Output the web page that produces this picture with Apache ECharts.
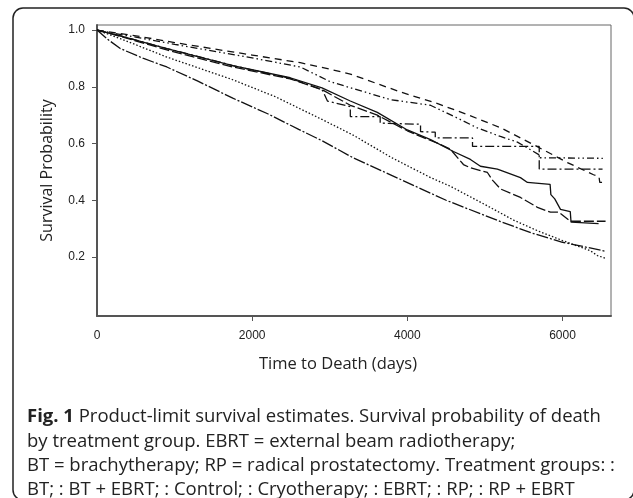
<!DOCTYPE html>
<html>
<head>
<meta charset="utf-8">
<script src="https://cdn.jsdelivr.net/npm/echarts@6.0.0/dist/echarts.min.js"></script>
<style>
  html, body { margin: 0; padding: 0; background: #fff; }
  #chart { width: 633px; height: 498px; }
</style>
</head>
<body>
<div id="chart"></div>
<script>
// tick labels
const xTicks = [0, 2000, 4000, 6000];
const yTicks = [0.2, 0.4, 0.6, 0.8, 1.0];

// product-limit estimates (days, survival)
const btT = [0, 300, 900, 1750, 2490, 2900, 3265, 3613, 4000, 4300, 4594, 4813, 4942, 5161, 5458, 5548, 5840, 5850, 5900, 5974, 6100, 6110, 6465];
const btS = [1.0, 0.98, 0.935, 0.875, 0.832, 0.796, 0.75, 0.71, 0.648, 0.614, 0.572, 0.544, 0.52, 0.51, 0.48, 0.463, 0.456, 0.42, 0.405, 0.368, 0.36, 0.323, 0.318];

const btEbrtT = [0, 300, 900, 1750, 2490, 2900, 3265, 3613, 4000, 4168, 4400, 4555, 4723, 4800, 5032, 5100, 5200, 5458, 5677, 5845, 5950, 6103, 6555];
const btEbrtS = [1.0, 0.978, 0.93, 0.87, 0.828, 0.79, 0.735, 0.70, 0.645, 0.625, 0.60, 0.58, 0.526, 0.516, 0.498, 0.47, 0.44, 0.41, 0.375, 0.358, 0.358, 0.326, 0.326];

const controlT = [0, 150, 300, 600, 900, 1300, 1750, 2200, 2600, 2900, 3300, 3900, 4500, 5200, 5600, 6000, 6300, 6560];
const controlS = [1.0, 0.965, 0.935, 0.90, 0.87, 0.82, 0.76, 0.705, 0.65, 0.61, 0.55, 0.475, 0.40, 0.325, 0.285, 0.252, 0.235, 0.22];

const cryoT = [0, 300, 900, 1750, 2490, 2900, 2920, 2970, 3265, 3265, 3650, 3650, 4170, 4170, 4360, 4360, 4840, 4840, 5700, 5700, 6516];
const cryoS = [1.0, 0.98, 0.935, 0.875, 0.83, 0.79, 0.78, 0.75, 0.73, 0.695, 0.695, 0.672, 0.668, 0.642, 0.64, 0.62, 0.62, 0.59, 0.59, 0.51, 0.51];

const ebrtT = [0, 300, 900, 1750, 2300, 2900, 3300, 3800, 4300, 4550, 5000, 5370, 5700, 6000, 6360, 6450, 6560];
const ebrtS = [1.0, 0.97, 0.905, 0.825, 0.765, 0.685, 0.63, 0.55, 0.48, 0.45, 0.385, 0.33, 0.29, 0.258, 0.222, 0.205, 0.195];

const rpT = [0, 500, 1000, 2000, 2620, 2877, 3265, 3910, 4400, 4774, 5200, 5626, 6064, 6400, 6470, 6480, 6560];
const rpS = [1.0, 0.98, 0.956, 0.912, 0.885, 0.87, 0.845, 0.782, 0.74, 0.702, 0.656, 0.596, 0.533, 0.49, 0.484, 0.463, 0.463];

const rpEbrtT = [0, 1000, 2000, 2620, 3006, 3781, 4297, 4645, 4903, 5200, 5419, 5626, 5700, 5710, 6520];
const rpEbrtS = [1.0, 0.95, 0.902, 0.87, 0.818, 0.755, 0.735, 0.69, 0.655, 0.625, 0.605, 0.572, 0.56, 0.55, 0.548];

const groups = [
  {name: 'BT', t: btT, s: btS, dash: 'solid'},
  {name: 'BT + EBRT', t: btEbrtT, s: btEbrtS, dash: [10, 3]},
  {name: 'Control', t: controlT, s: controlS, dash: [12, 2, 2, 2]},
  {name: 'Cryotherapy', t: cryoT, s: cryoS, dash: [9, 3, 2, 3]},
  {name: 'EBRT', t: ebrtT, s: ebrtS, dash: [1.5, 2]},
  {name: 'RP', t: rpT, s: rpS, dash: [7, 5]},
  {name: 'RP + EBRT', t: rpEbrtT, s: rpEbrtS, dash: [7, 3, 1.5, 3, 1.5, 3]}
];

const chart = echarts.init(document.getElementById('chart'));

const captionFont = '"Open Sans", "Noto Sans", sans-serif';
const tickFont = '"Liberation Sans", Arial, sans-serif';
const captionLines = [
  'by treatment group. EBRT = external beam radiotherapy;',
  'BT = brachytherapy; RP = radical prostatectomy. Treatment groups: :',
  'BT; : BT + EBRT; : Control; : Cryotherapy; : EBRT; : RP; : RP + EBRT'
];

const option = {
  animation: false,
  backgroundColor: '#fff',
  grid: {
    left: 97, top: 25, right: 22, bottom: 182,
    show: true, borderColor: '#666', borderWidth: 1
  },
  xAxis: {
    type: 'value',
    min: 0, max: 6625, interval: 2000,
    splitLine: {show: false},
    axisLine: {onZero: false, lineStyle: {color: '#555', width: 2}},
    axisTick: {show: true, length: 5, lineStyle: {color: '#555'}, customValues: xTicks.slice(1)},
    axisLabel: {
      color: '#222', fontSize: 12, margin: 14,
      fontFamily: tickFont,
      customValues: xTicks,
      formatter: v => String(v)
    }
  },
  yAxis: {
    type: 'value',
    min: -0.008, max: 1.018,
    name: 'Survival Probability',
    nameLocation: 'middle',
    nameGap: 42,
    nameTextStyle: {fontSize: 16, color: '#222', fontFamily: captionFont},
    splitLine: {show: false},
    axisLine: {lineStyle: {color: '#555', width: 2}},
    axisTick: {show: true, length: 5, lineStyle: {color: '#555'}, customValues: yTicks},
    axisLabel: {
      color: '#222', fontSize: 12, margin: 12,
      fontFamily: tickFont,
      customValues: yTicks,
      formatter: v => v.toFixed(1)
    }
  },
  series: groups.map(g => ({
    name: g.name,
    type: 'line',
    symbol: 'none',
    data: g.t.map((t, i) => [t, g.s[i]]),
    lineStyle: {color: '#111', width: 1.3, type: g.dash},
    z: 3
  })),
  graphic: [
    {
      type: 'rect',
      shape: {x: 13, y: 8, width: 621, height: 492, r: 10},
      style: {fill: 'none', stroke: '#222', lineWidth: 1.5},
      silent: true
    },
    {
      type: 'text',
      x: 338, y: 364,
      style: {
        text: 'Time to Death (days)',
        font: '16.5px ' + captionFont,
        fill: '#222', textAlign: 'center', textVerticalAlign: 'middle'
      }
    },
    {
      type: 'text',
      x: 27, y: 417,
      style: {
        text: '{b|Fig. 1} Product-limit survival estimates. Survival probability of death',
        fill: '#222', textVerticalAlign: 'middle',
        fontSize: 18.5, fontFamily: captionFont,
        rich: {
          b: {fontWeight: 'bold', fontSize: 18.5, fontFamily: captionFont, fill: '#222'}
        }
      }
    }
  ].concat(captionLines.map((line, i) => ({
    type: 'text',
    x: 27, y: 441.5 + i * 24.3,
    style: {
      text: line,
      font: '18.5px ' + captionFont,
      fill: '#222', textVerticalAlign: 'middle'
    }
  })))
};

chart.setOption(option);
</script>
</body>
</html>
